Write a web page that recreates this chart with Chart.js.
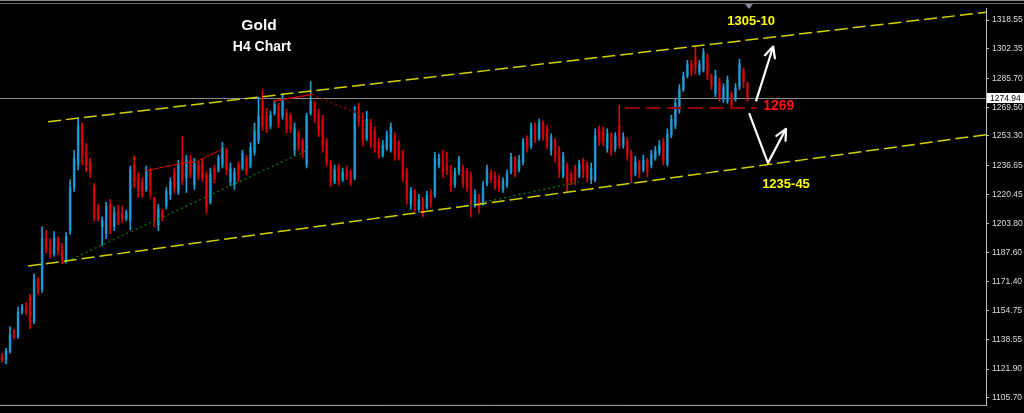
<!DOCTYPE html>
<html>
<head>
<meta charset="utf-8">
<title>Gold H4</title>
<script src="https://cdn.jsdelivr.net/npm/chart.js@4.4.1/dist/chart.umd.min.js"></script>
<style>
  html, body { margin: 0; padding: 0; background: #000; }
  #wrap { position: relative; width: 1024px; height: 413px; }
</style>
</head>
<body>
<div id="wrap"><canvas id="c"></canvas></div>
<script>
// H4 gold candles (open / high / low / close)
const openP = [
  1129.2,1127.0,1131.9,1141.3,1140.2,1154.0,1156.8,1162.3,1148.5,1172.3,
  1166.7,1195.4,1189.9,1186.6,1195.4,1188.8,1183.3,1199.9,1224.2,1236.9,
  1259.0,1244.1,1238.5,1225.3,1212.0,1202.1,1198.2,1214.8,1202.1,1210.9,
  1209.8,1206.5,1205.4,1236.9,1230.8,1226.9,1223.1,1233.0,1218.6,1203.2,
  1210.9,1213.7,1220.3,1233.0,1222.0,1239.6,1229.7,1239.6,1225.8,1236.9,
  1238.0,1231.4,1215.9,1235.2,1234.1,1236.9,1245.2,1227.5,1225.8,1236.9,
  1235.2,1240.7,1236.3,1244.1,1250.7,1272.8,1264.5,1259.0,1266.1,1270.0,
  1264.5,1266.1,1264.5,1245.2,1255.1,1250.7,1236.9,1266.1,1271.7,1266.1,
  1262.8,1249.6,1238.5,1227.5,1236.3,1228.6,1234.1,1233.0,1229.7,1267.2,
  1261.7,1251.8,1260.6,1256.2,1249.6,1242.4,1246.3,1245.2,1253.4,1249.6,
  1244.1,1233.0,1214.8,1222.0,1212.0,1217.5,1213.1,1220.3,1220.3,1236.9,
  1239.6,1237.4,1234.1,1225.8,1233.0,1235.2,1233.0,1230.8,1214.8,1218.6,
  1215.9,1226.4,1233.0,1230.8,1228.6,1223.1,1225.3,1233.0,1240.7,1234.1,
  1238.5,1252.3,1247.9,1259.0,1252.3,1260.6,1257.3,1245.2,1250.7,1245.2,
  1230.8,1236.9,1231.4,1235.2,1230.8,1239.6,1236.3,1228.6,1228.6,1256.2,
  1256.2,1246.3,1254.0,1246.3,1259.0,1247.9,1250.7,1244.1,1231.9,1238.5,
  1234.1,1239.6,1236.9,1240.7,1244.1,1249.6,1237.4,1254.0,1259.0,1268.4,
  1279.4,1287.1,1293.8,1297.6,1289.3,1290.4,1297.6,1287.1,1277.2,1283.8,
  1273.9,1272.8,1277.2,1273.9,1281.1,1290.4,1282.7
];
const highP = [
  1130.8,1133.6,1145.7,1144.1,1156.8,1158.4,1159.5,1164.0,1175.6,1173.4,
  1202.1,1199.9,1195.4,1199.3,1196.6,1192.7,1198.8,1228.6,1245.2,1263.4,
  1260.6,1249.0,1240.7,1226.4,1214.8,1207.6,1215.9,1217.5,1213.1,1214.2,
  1213.7,1211.5,1236.3,1241.8,1233.0,1229.7,1236.3,1235.2,1218.6,1214.8,
  1212.0,1224.2,1229.7,1235.2,1239.6,1252.9,1242.4,1242.4,1240.7,1238.5,
  1240.7,1233.0,1235.2,1236.9,1242.4,1249.6,1246.3,1238.0,1235.2,1238.5,
  1245.2,1242.4,1249.6,1260.6,1275.0,1278.8,1268.9,1267.2,1273.3,1271.7,
  1277.2,1268.4,1266.1,1260.6,1256.2,1251.8,1266.1,1283.8,1272.8,1268.4,
  1265.0,1251.8,1239.6,1236.9,1237.4,1235.2,1236.3,1234.1,1270.0,1271.7,
  1266.1,1267.2,1262.8,1258.4,1251.8,1250.7,1256.2,1260.6,1255.1,1250.7,
  1245.2,1235.2,1224.2,1223.1,1220.3,1218.6,1222.0,1223.1,1244.1,1243.0,
  1245.2,1244.1,1236.9,1235.2,1241.8,1236.9,1235.2,1233.0,1223.1,1220.3,
  1227.5,1236.9,1234.1,1233.0,1231.4,1229.7,1234.1,1243.5,1241.8,1242.4,
  1251.8,1253.4,1260.6,1260.6,1262.8,1261.7,1259.0,1254.5,1251.8,1247.4,
  1244.1,1238.0,1233.0,1236.9,1239.6,1240.7,1238.5,1238.0,1257.3,1259.0,
  1258.4,1257.3,1255.1,1255.1,1270.6,1255.1,1252.3,1245.2,1241.8,1239.6,
  1242.4,1240.7,1245.2,1247.4,1250.7,1251.8,1257.3,1265.0,1273.9,1282.2,
  1289.3,1296.0,1296.0,1303.7,1296.0,1302.6,1299.3,1288.2,1290.4,1286.0,
  1282.7,1287.1,1278.3,1282.7,1296.5,1291.5,1283.8
];
const lowP = [
  1125.9,1124.8,1130.8,1139.1,1139.1,1152.9,1152.4,1144.6,1147.4,1164.0,
  1165.1,1187.2,1184.4,1185.5,1186.6,1181.1,1181.6,1197.7,1222.0,1234.1,
  1236.9,1233.0,1229.7,1205.4,1205.4,1191.6,1195.4,1198.2,1199.9,1203.2,
  1204.3,1205.4,1200.4,1224.2,1218.6,1218.6,1222.0,1218.6,1202.1,1199.9,
  1205.4,1212.0,1217.5,1220.9,1220.3,1225.8,1221.4,1229.7,1223.1,1228.6,
  1227.5,1209.8,1214.8,1226.9,1233.0,1235.2,1231.4,1225.3,1223.1,1227.5,
  1234.1,1231.4,1235.2,1242.4,1249.0,1256.2,1255.1,1257.3,1265.0,1257.9,
  1262.8,1255.1,1255.1,1242.4,1245.2,1241.3,1235.2,1265.0,1260.6,1252.9,
  1244.1,1236.3,1224.7,1226.4,1225.3,1227.5,1228.6,1225.3,1228.6,1259.0,
  1247.4,1250.7,1246.8,1244.1,1240.7,1241.3,1245.2,1244.1,1239.6,1239.6,
  1227.5,1214.8,1212.0,1210.9,1210.4,1207.6,1212.0,1213.1,1218.6,1235.2,
  1229.7,1231.4,1222.0,1224.2,1231.4,1224.2,1222.0,1207.6,1213.1,1209.8,
  1214.2,1225.3,1226.9,1223.1,1222.0,1221.4,1224.2,1231.9,1230.2,1233.0,
  1236.9,1244.1,1246.3,1249.6,1250.7,1250.7,1246.3,1242.4,1238.5,1229.7,
  1229.7,1222.0,1225.8,1225.8,1229.7,1229.7,1227.5,1226.4,1227.5,1247.9,
  1247.9,1244.1,1242.4,1244.6,1246.3,1246.3,1239.6,1226.9,1230.8,1229.7,
  1233.0,1230.2,1235.2,1239.6,1242.4,1236.9,1236.3,1252.3,1257.3,1266.1,
  1278.3,1286.0,1287.1,1288.2,1287.7,1289.3,1284.9,1279.4,1275.5,1272.8,
  1272.2,1271.7,1268.4,1272.8,1279.4,1280.5,1272.8
];
const closeP = [
  1127.0,1131.9,1141.3,1140.2,1154.0,1156.8,1154.0,1148.5,1172.3,1166.7,
  1195.4,1189.9,1186.6,1195.4,1188.8,1183.3,1196.6,1224.2,1240.7,1259.0,
  1242.4,1236.9,1233.0,1208.7,1206.5,1205.4,1213.7,1201.0,1209.8,1206.5,
  1207.0,1209.8,1234.1,1227.5,1223.1,1220.3,1234.1,1222.0,1205.4,1212.0,
  1207.6,1222.0,1227.5,1224.2,1236.9,1228.6,1239.6,1231.4,1238.0,1230.8,
  1229.7,1213.1,1231.4,1228.6,1240.7,1246.3,1234.1,1235.2,1233.0,1229.7,
  1243.5,1234.1,1246.8,1256.2,1264.5,1259.0,1257.3,1265.0,1271.1,1260.6,
  1274.4,1257.3,1257.3,1257.3,1247.9,1244.1,1264.5,1272.8,1262.8,1256.2,
  1247.4,1238.5,1227.5,1234.1,1227.5,1233.0,1230.8,1226.9,1266.1,1261.7,
  1250.7,1262.8,1249.0,1246.3,1243.0,1247.9,1253.4,1258.4,1242.4,1241.3,
  1230.2,1217.5,1222.0,1213.7,1217.5,1209.8,1219.8,1215.3,1240.7,1240.7,
  1233.0,1234.1,1225.3,1233.0,1239.6,1226.4,1224.2,1214.8,1220.3,1213.1,
  1224.2,1234.1,1228.6,1224.7,1224.2,1227.5,1231.9,1241.3,1233.0,1239.6,
  1249.6,1246.3,1258.4,1251.8,1260.6,1253.4,1249.6,1252.3,1241.8,1233.0,
  1241.8,1225.3,1227.5,1228.6,1237.4,1232.5,1229.7,1235.2,1253.4,1250.7,
  1250.7,1254.5,1245.2,1252.9,1248.5,1252.3,1242.4,1230.8,1238.5,1232.5,
  1239.6,1233.0,1243.0,1245.2,1247.9,1239.6,1254.5,1262.8,1271.7,1279.4,
  1287.1,1293.8,1289.3,1291.5,1293.8,1300.4,1287.1,1281.6,1287.1,1275.0,
  1280.5,1284.9,1271.1,1280.5,1293.8,1283.8,1274.94
];

// Price axis labels
const axisTicks = [1105.70, 1121.90, 1138.55, 1154.75, 1171.40, 1187.60, 1203.80,
                   1220.45, 1236.65, 1253.30, 1269.50, 1285.70, 1302.35, 1318.55];
const priceMin = 1101.67;
const priceMax = 1325.34;

// Bar slots on the time axis (filled candles plus empty space to the right)
const slotCount = 246;

// Drawn studies, in (bar index, price)
const upperChannel = [{x: 11.5, y: 1261.3}, {x: 245.5, y: 1323.0}];
const lowerChannel = [{x: 6.5, y: 1179.9}, {x: 245.5, y: 1254.0}];
const greenTrend1 = [{x: 15.2, y: 1181.6}, {x: 75.6, y: 1244.6}];
const greenTrend2 = [{x: 115.5, y: 1213.7}, {x: 144.2, y: 1227.5}];
const redTrend1 = [{x: 35.7, y: 1233.6}, {x: 45.2, y: 1238.0}, {x: 48.2, y: 1238.5}, {x: 54.9, y: 1245.7}];
const redTrend2 = [{x: 67.6, y: 1272.8}, {x: 77.3, y: 1276.6}];
const redTrend3 = [{x: 77.3, y: 1276.6}, {x: 89.3, y: 1265.6}];
const pivotLevel = 1269;
const pivotLine = [{x: 155.4, y: pivotLevel}, {x: 188.4, y: pivotLevel}];
const arrowUp = [{x: 188.1, y: 1272.8}, {x: 192.4, y: 1303.7}];
const arrowDownUp = [{x: 186.4, y: 1266.1}, {x: 191.1, y: 1238.0}, {x: 195.6, y: 1257.3}];

// Target notes
const noteText = ['1305-10', String(pivotLevel), '1235-45'];
const noteIdx = [186.9, 189.9, 195.6];
const notePrice = [1318.1, 1270.0, 1225.8];
const noteColor = ['#ffff00', '#ff1010', '#ffff00'];
const noteAlign = ['center', 'left', 'center'];
const noteSize = [13, 14, 13];

const lastClose = closeP[closeP.length - 1];

const upWick = '#1aa0e2', upBody = '#1b6a93';
const dnWick = '#e00000', dnBody = '#8e0000';
const isUp = closeP.map((c, i) => c >= openP[i]);

const slotLabels = Array.from({length: slotCount}, (_, i) => String(i));

const lineSet = (pts, color, width, dash, extra) => Object.assign({
  type: 'line', xAxisID: 'xl', yAxisID: 'y', data: pts,
  borderColor: color, borderWidth: width, borderDash: dash,
  pointRadius: 0, fill: false, tension: 0, order: 0
}, extra || {});

const overlay = {
  id: 'overlay',
  beforeDatasetsDraw(chart) {
    const {ctx, chartArea: a, scales: {y}} = chart;
    const py = Math.round(y.getPixelForValue(lastClose)) + 0.5;
    ctx.save();
    ctx.strokeStyle = '#8c8c8c';
    ctx.lineWidth = 1;
    ctx.beginPath(); ctx.moveTo(a.left, py); ctx.lineTo(a.right, py); ctx.stroke();
    ctx.restore();
  },
  afterDatasetsDraw(chart) {
    const ctx = chart.ctx;
    chart.data.datasets.forEach((ds, di) => {
      if (!ds.arrowHead) return;
      const pts = chart.getDatasetMeta(di).data;
      const a = pts[pts.length - 2], b = pts[pts.length - 1];
      const ang = Math.atan2(b.y - a.y, b.x - a.x);
      const len = 12, spread = 0.45;
      ctx.save();
      ctx.strokeStyle = ds.borderColor; ctx.lineWidth = ds.borderWidth;
      ctx.lineCap = 'round'; ctx.lineJoin = 'round';
      ctx.beginPath();
      ctx.moveTo(b.x - len * Math.cos(ang - spread), b.y - len * Math.sin(ang - spread));
      ctx.lineTo(b.x, b.y);
      ctx.lineTo(b.x - len * Math.cos(ang + spread), b.y - len * Math.sin(ang + spread));
      ctx.stroke();
      ctx.restore();
    });
  },
  afterDraw(chart) {
    const {ctx, chartArea: a, scales: {y, xl}} = chart;
    const W = chart.width;
    ctx.save();
    // window frame
    ctx.lineWidth = 1;
    ctx.strokeStyle = '#8a8a8a';
    ctx.beginPath(); ctx.moveTo(0, 0.5); ctx.lineTo(W, 0.5); ctx.stroke();
    ctx.strokeStyle = '#6a6a6a';
    ctx.beginPath(); ctx.moveTo(0, 3.5); ctx.lineTo(W, 3.5); ctx.stroke();
    ctx.strokeStyle = '#b4b4b4';
    ctx.beginPath(); ctx.moveTo(0, a.bottom + 0.5); ctx.lineTo(a.right + 1, a.bottom + 0.5); ctx.stroke();

    // chart shift marker
    ctx.fillStyle = '#8c8c9c';
    ctx.beginPath(); ctx.moveTo(745, 4); ctx.lineTo(753, 4); ctx.lineTo(749, 9); ctx.closePath(); ctx.fill();

    // title
    ctx.fillStyle = '#ffffff';
    ctx.textAlign = 'center'; ctx.textBaseline = 'middle';
    ctx.font = 'bold 15.5px "Liberation Sans", Arial, sans-serif';
    ctx.fillText('Gold', 259, 26);
    ctx.font = 'bold 14px "Liberation Sans", Arial, sans-serif';
    ctx.fillText('H4 Chart', 262, 47);

    // notes
    noteText.forEach((t, i) => {
      ctx.fillStyle = noteColor[i];
      ctx.textAlign = noteAlign[i];
      ctx.font = 'bold ' + noteSize[i] + 'px "Liberation Sans", Arial, sans-serif';
      ctx.fillText(t, xl.getPixelForValue(noteIdx[i]), y.getPixelForValue(notePrice[i]));
    });

    // last price box
    const py = Math.round(y.getPixelForValue(lastClose));
    ctx.fillStyle = '#ffffff';
    ctx.fillRect(a.right + 1, py - 5, W - a.right - 1, 10);
    ctx.fillStyle = '#000000';
    ctx.textAlign = 'left';
    ctx.font = '8.5px "Liberation Sans", Arial, sans-serif';
    ctx.fillText(lastClose.toFixed(2), a.right + 4, py + 0.5);
    ctx.restore();
  }
};

new Chart(document.getElementById('c'), {
  type: 'bar',
  data: {
    labels: slotLabels,
    datasets: [
      {
        label: 'body', order: 3, grouped: false, barThickness: 2,
        data: openP.map((o, i) => [o, closeP[i]]),
        backgroundColor: isUp.map(u => u ? upBody : dnBody),
        borderWidth: 0, borderSkipped: false
      },
      {
        label: 'wick', order: 2, grouped: false, barThickness: 1,
        data: lowP.map((l, i) => [l, highP[i]]),
        backgroundColor: isUp.map(u => u ? upWick : dnWick),
        borderWidth: 0, borderSkipped: false
      },
      lineSet(upperChannel, '#d2d200', 1.5, [13, 5]),
      lineSet(lowerChannel, '#d2d200', 1.5, [13, 5]),
      lineSet(greenTrend1, '#0b6e0b', 1.5, [2, 3]),
      lineSet(greenTrend2, '#0b6e0b', 1.5, [2, 3]),
      lineSet(redTrend1, '#d40000', 1, []),
      lineSet(redTrend2, '#c80000', 1.5, []),
      lineSet(redTrend3, '#8e0000', 1.5, [2, 3]),
      lineSet(pivotLine, '#900000', 2, [15, 6]),
      lineSet(arrowUp, '#ffffff', 2.2, [], {arrowHead: true}),
      lineSet(arrowDownUp, '#ffffff', 2.2, [], {arrowHead: true})
    ]
  },
  options: {
    responsive: true,
    maintainAspectRatio: false,
    animation: false,
    events: [],
    layout: { padding: { top: 5, bottom: 3, left: 0, right: 0 } },
    plugins: { legend: { display: false }, tooltip: { enabled: false } },
    scales: {
      x: { type: 'category', display: false, offset: true },
      xl: { type: 'linear', axis: 'x', display: false, offset: false, grid: { offset: false },
            min: -0.5, max: slotCount - 0.5 },
      y: {
        position: 'right',
        min: priceMin, max: priceMax,
        afterBuildTicks: s => { s.ticks = axisTicks.map(v => ({value: v})); },
        afterFit: s => { s.width = 38; },
        ticks: {
          color: '#dcdcdc', padding: 3, autoSkip: false,
          font: { family: '"Liberation Sans", Arial, sans-serif', size: 8.5 },
          callback: v => Number(v).toFixed(2)
        },
        grid: { drawOnChartArea: false, drawTicks: true, tickLength: 3, tickColor: '#bdbdbd', color: '#bdbdbd' },
        border: { color: '#bdbdbd', width: 1 }
      }
    }
  },
  plugins: [overlay]
});
</script>
</body>
</html>
